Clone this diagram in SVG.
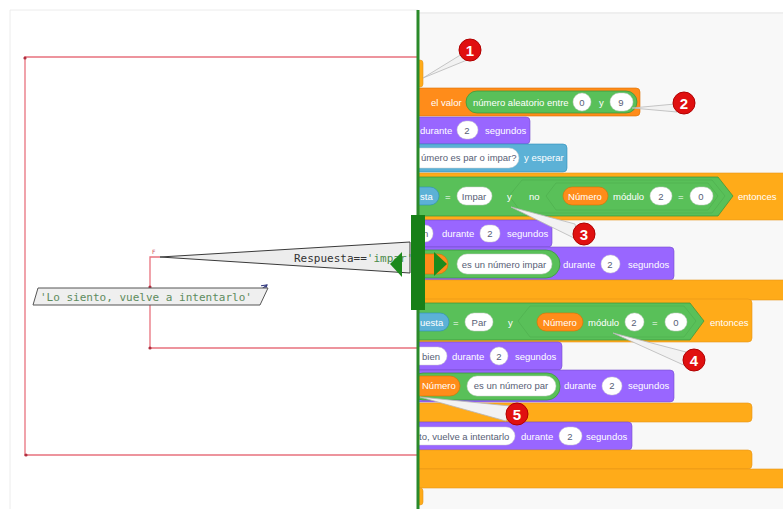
<svg xmlns="http://www.w3.org/2000/svg" width="783" height="509" viewBox="0 0 783 509">
<defs>
<style>
.rl{stroke:#e8727e;stroke-width:1.3;fill:none}
.st{font-family:"Liberation Sans","Open Sans",sans-serif;font-size:9.5px;fill:#fff}
.sg{font-family:"Liberation Sans","Open Sans",sans-serif;font-size:9.5px;fill:#575e75}
.ctl{fill:#ffab19;stroke:#e6961a;stroke-width:0.6}
.var{fill:#ff8c1a;stroke:#db6e00;stroke-width:0.6}
.lk{fill:#9966ff;stroke:#774dcb;stroke-width:0.6}
.sen{fill:#5cb1d6;stroke:#2e8eb8;stroke-width:0.6}
.op{fill:#59c059;stroke:#389438;stroke-width:0.7}
.op2{fill:#59c059;stroke:#4aa84a;stroke-width:0.5}
.wp{fill:#fff;stroke:#ccc;stroke-width:0.5}
.mono{font-family:"DejaVu Sans Mono","Liberation Mono",monospace;font-size:11px}
.badge{fill:#e01010;stroke:#b00000;stroke-width:1}
.bt{font-family:"Liberation Sans","Open Sans",sans-serif;font-size:15px;font-weight:bold;fill:#fff;text-anchor:middle}
.ptr{fill:#f2f2f2;stroke:#b8b8b8;stroke-width:0.8}
</style>
<clipPath id="rc"><rect x="419" y="0" width="364" height="509"/></clipPath>
<marker id="ah" markerWidth="6" markerHeight="6" refX="5" refY="3" orient="auto"><path d="M0,0 L5,3 L0,6" fill="none" stroke="#333a80" stroke-width="1"/></marker>
</defs>
<rect x="0" y="0" width="783" height="509" fill="#fff"/>
<g id="left-panel">
<path d="M10,509 V10 H418" fill="none" stroke="#ececec" stroke-width="1"/>
</g>
<g id="right-panel">
<rect x="419" y="12" width="364" height="497" fill="#f8f8f8"/>
<line x1="419" y1="13" x2="783" y2="13" stroke="#e6e6e6" stroke-width="1"/>
</g>
<g id="blocks" clip-path="url(#rc)">
<rect class="ctl" x="410" y="60" width="13" height="27" rx="3"/>
<rect class="var" x="410" y="88" width="230" height="28" rx="4"/>
<text class="st" x="431" y="106">el valor</text>
<rect class="op" x="466" y="91" width="171" height="22" rx="11"/>
<text class="st" x="473" y="106">número aleatorio entre</text>
<rect class="wp" x="573" y="93" width="18" height="18" rx="9"/><text class="sg" x="582" y="106" text-anchor="middle">0</text>
<text class="st" x="599" y="106">y</text>
<rect class="wp" x="610" y="93" width="23" height="18" rx="9"/><text class="sg" x="621" y="106" text-anchor="middle">9</text>
<rect class="lk" x="410" y="117" width="120" height="27" rx="4"/>
<text class="st" x="420" y="134">durante</text>
<rect class="wp" x="457" y="121" width="21" height="18" rx="9"/><text class="sg" x="467" y="134" text-anchor="middle">2</text>
<text class="st" x="485" y="134">segundos</text>
<rect class="sen" x="410" y="144" width="157" height="28" rx="4"/>
<rect class="wp" x="410" y="148" width="109" height="20" rx="10"/>
<text class="sg" x="421" y="161">úmero es par o impar?</text>
<text class="st" x="524" y="161">y esperar</text>
<rect class="ctl" x="410" y="173" width="380" height="47" rx="4"/>
<path class="op" d="M410,177 H718 L733,196 L718,216 H410 Z"/>
<path class="op2" d="M522,180 H712 L725,196 L712,213 H522 L509,196 Z"/>
<path class="op2" d="M556,183 H708 L718,196 L708,210 H556 L546,196 Z"/>
<rect class="sen" x="410" y="187" width="29" height="18" rx="9"/><text class="st" x="420" y="200">sta</text>
<text class="st" x="445" y="200">=</text>
<rect class="wp" x="457" y="187" width="35" height="18" rx="9"/><text class="sg" x="474" y="200" text-anchor="middle">Impar</text>
<text class="st" x="507" y="200">y</text>
<text class="st" x="529" y="200">no</text>
<rect class="var" x="563" y="187" width="45" height="18" rx="9"/><text class="st" x="585" y="200" text-anchor="middle">Número</text>
<text class="st" x="613" y="200">módulo</text>
<rect class="wp" x="650" y="187" width="22" height="18" rx="9"/><text class="sg" x="661" y="200" text-anchor="middle">2</text>
<text class="st" x="678" y="200">=</text>
<rect class="wp" x="690" y="187" width="23" height="18" rx="9"/><text class="sg" x="701" y="200" text-anchor="middle">0</text>
<text class="st" x="738" y="200">entonces</text>
<rect class="lk" x="410" y="220" width="142" height="27" rx="4"/>
<rect class="wp" x="410" y="225" width="23" height="17" rx="8"/><text class="sg" x="423" y="237">n</text>
<text class="st" x="442" y="237">durante</text>
<rect class="wp" x="480" y="225" width="20" height="17" rx="8"/><text class="sg" x="490" y="237" text-anchor="middle">2</text>
<text class="st" x="507" y="237">segundos</text>
<rect class="lk" x="410" y="247" width="264" height="33" rx="4"/>
<rect class="op" x="410" y="250" width="150" height="28" rx="14"/>
<rect class="var" x="410" y="254" width="38" height="20" rx="10"/>
<rect class="wp" x="457" y="254" width="95" height="20" rx="10"/><text class="sg" x="504" y="268" text-anchor="middle">es un número impar</text>
<text class="st" x="563" y="268">durante</text>
<rect class="wp" x="601" y="255" width="19" height="18" rx="9"/><text class="sg" x="610" y="268" text-anchor="middle">2</text>
<text class="st" x="628" y="268">segundos</text>
<rect class="ctl" x="410" y="280" width="380" height="20" rx="4"/>
<rect class="ctl" x="410" y="299" width="342" height="43" rx="4"/>
<path class="op" d="M410,303 H690 L704,321 L690,340 H410 Z"/>
<path class="op2" d="M530,306 H684 L696,321 L684,337 H530 L518,321 Z"/>
<rect class="sen" x="410" y="313" width="39" height="18" rx="9"/><text class="st" x="420" y="326">uesta</text>
<text class="st" x="453" y="326">=</text>
<rect class="wp" x="465" y="313" width="28" height="18" rx="9"/><text class="sg" x="479" y="326" text-anchor="middle">Par</text>
<text class="st" x="508" y="326">y</text>
<rect class="var" x="537" y="313" width="46" height="18" rx="9"/><text class="st" x="560" y="326" text-anchor="middle">Número</text>
<text class="st" x="588" y="326">módulo</text>
<rect class="wp" x="625" y="313" width="19" height="18" rx="9"/><text class="sg" x="634" y="326" text-anchor="middle">2</text>
<text class="st" x="652" y="326">=</text>
<rect class="wp" x="665" y="313" width="22" height="18" rx="9"/><text class="sg" x="676" y="326" text-anchor="middle">0</text>
<text class="st" x="710" y="326">entonces</text>
<rect class="lk" x="410" y="342" width="152" height="28" rx="4"/>
<rect class="wp" x="410" y="347" width="37" height="18" rx="9"/><text class="sg" x="422" y="360">bien</text>
<text class="st" x="452" y="360">durante</text>
<rect class="wp" x="490" y="347" width="18" height="18" rx="9"/><text class="sg" x="499" y="360" text-anchor="middle">2</text>
<text class="st" x="515" y="360">segundos</text>
<rect class="lk" x="410" y="370" width="264" height="32" rx="4"/>
<rect class="op" x="410" y="373" width="150" height="27" rx="13"/>
<rect class="var" x="410" y="376" width="50" height="20" rx="10"/><text class="st" x="422" y="389">Número</text>
<rect class="wp" x="467" y="376" width="89" height="20" rx="10"/><text class="sg" x="511" y="389" text-anchor="middle">es un número par</text>
<text class="st" x="564" y="389">durante</text>
<rect class="wp" x="602" y="377" width="20" height="18" rx="9"/><text class="sg" x="612" y="389" text-anchor="middle">2</text>
<text class="st" x="628" y="389">segundos</text>
<rect class="ctl" x="410" y="403" width="342" height="19" rx="4"/>
<rect class="lk" x="410" y="422" width="222" height="28" rx="4"/>
<rect class="wp" x="410" y="427" width="105" height="18" rx="9"/><text class="sg" x="419" y="440">to, vuelve a intentarlo</text>
<text class="st" x="521" y="440">durante</text>
<rect class="wp" x="559" y="427" width="23" height="18" rx="9"/><text class="sg" x="570" y="440" text-anchor="middle">2</text>
<text class="st" x="586" y="440">segundos</text>
<rect class="ctl" x="410" y="450" width="342" height="19" rx="4"/>
<rect class="ctl" x="410" y="469" width="380" height="19" rx="4"/>
<rect class="ctl" x="410" y="488" width="13" height="17" rx="3"/>
</g>
<g id="callouts">
<polygon class="ptr" points="423,78 462,54 467,60"/>
<circle class="badge" cx="470" cy="50" r="11"/><text class="bt" x="470" y="56">1</text>
<polygon class="ptr" points="632,108 675,104 677,112"/>
<circle class="badge" cx="684" cy="103" r="11"/><text class="bt" x="684" y="109">2</text>
<polygon class="ptr" points="511,207 575,224 578,240"/>
<circle class="badge" cx="584" cy="234" r="11"/><text class="bt" x="584" y="240">3</text>
<polygon class="ptr" points="613,333 686,352 688,367"/>
<circle class="badge" cx="694" cy="360" r="11"/><text class="bt" x="694" y="366">4</text>
<polygon class="ptr" points="420,397 510,406 506,421"/>
<circle class="badge" cx="517" cy="414" r="11"/><text class="bt" x="517" y="420">5</text>
</g>
<g id="connectors">
<path class="rl" d="M418,57 H25 V455 H418"/>
<path class="rl" d="M160,257 H150 V348 H418"/>
<circle cx="25" cy="58" r="1.6" fill="#b03040"/>
<circle cx="26" cy="455" r="1.6" fill="#b03040"/>
<circle cx="150" cy="287" r="1.6" fill="#b03040"/>
<circle cx="150" cy="348" r="1.6" fill="#b03040"/>
<text x="152" y="254" font-family="DejaVu Sans" font-size="6" fill="#d05060">F</text>
<line x1="258" y1="292" x2="267" y2="285" stroke="#333a80" stroke-width="1.1" marker-end="url(#ah)"/>
</g>
<g id="node-output">
<polygon points="38,288 268,288 260,305 33,305" fill="#efefef" stroke="#555" stroke-width="1"/>
<text class="mono" x="40" y="301" fill="#5e8c5e" font-size="11.5">'Lo siento, vuelve a intentarlo'</text>
</g>
<g id="node-decision">
<polygon points="160,257 410,242 410,273" fill="#ededed" stroke="#3a3a3a" stroke-width="1"/>
<text class="mono" x="294" y="262"><tspan fill="#333">Respuesta==</tspan><tspan fill="#4a8a4a">'impar'</tspan></text>
</g>
<g id="green-marks">
<line x1="418" y1="10" x2="418" y2="509" stroke="#2a8a2a" stroke-width="3"/>
<polygon points="390,264 402,252 402,277" fill="#1c8a1c"/>
<rect x="411" y="215" width="14" height="95" fill="#188018"/>
<polygon points="434,252 447,264 434,276" fill="#1c8a1c"/>
</g>
</svg>
